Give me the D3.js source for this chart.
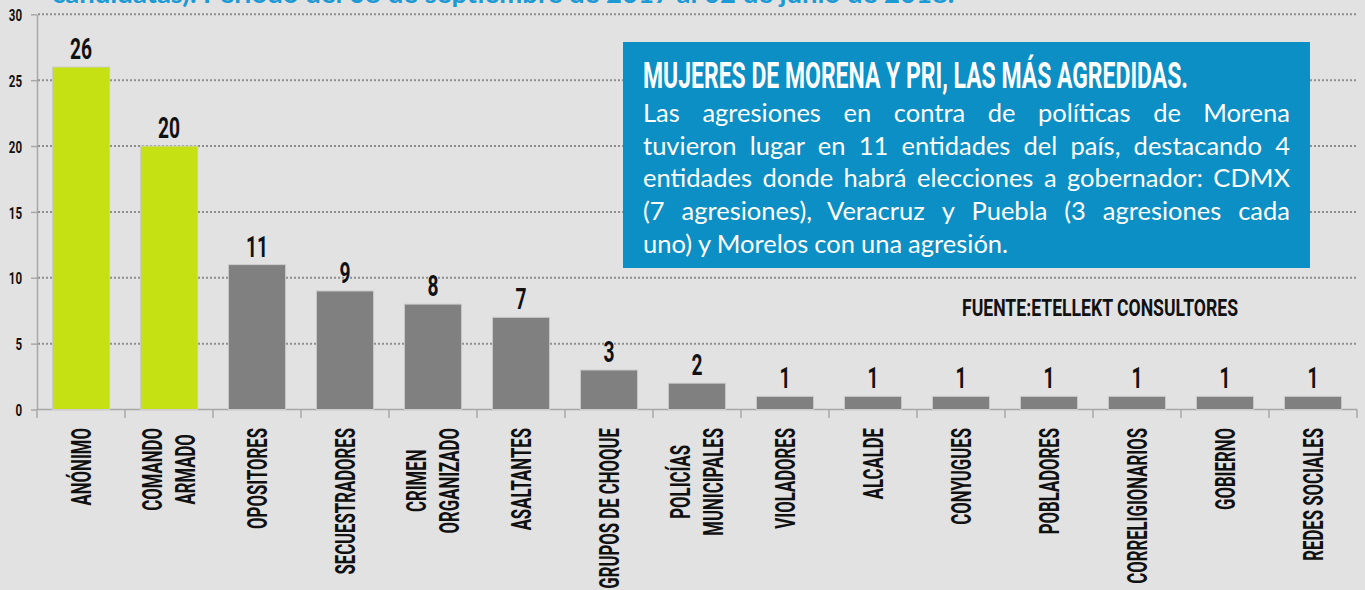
<!DOCTYPE html>
<html>
<head>
<meta charset="utf-8">
<script src="https://cdn.jsdelivr.net/npm/d3@7"></script>
<style>
  body { margin: 0; background: #e2e2e2; overflow: hidden; }
  svg { display: block; }
</style>
</head>
<body>
<div id="chart"></div>
<script>
// Data
var categories = ["ANÓNIMO", "COMANDO\nARMADO", "OPOSITORES", "SECUESTRADORES", "CRIMEN\nORGANIZADO",
  "ASALTANTES", "GRUPOS DE CHOQUE", "POLICÍAS\nMUNICIPALES", "VIOLADORES", "ALCALDE",
  "CONYUGUES", "POBLADORES", "CORRELIGIONARIOS", "GOBIERNO", "REDES SOCIALES"];
var values = [26, 20, 11, 9, 8, 7, 3, 2, 1, 1, 1, 1, 1, 1, 1];
var highlighted = ["ANÓNIMO", "COMANDO\nARMADO"];
var yTicks = [0, 5, 10, 15, 20, 25, 30];

var headline = "candidatas). Periodo del 08 de septiembre de 2017 al 02 de junio de 2018.";
var boxTitle = "MUJERES DE MORENA Y PRI, LAS MÁS AGREDIDAS.";
var boxLines = [
  "Las agresiones en contra de políticas de Morena",
  "tuvieron lugar en 11 entidades del país, destacando 4",
  "entidades donde habrá elecciones a gobernador: CDMX",
  "(7 agresiones), Veracruz y Puebla (3 agresiones cada",
  "uno) y Morelos con una agresión."
];
var sourceText = "FUENTE:ETELLEKT CONSULTORES";

// Layout
var svgWidth = 1365, svgHeight = 590;
var plot = { left: 37, right: 1357, top: 14.3, bottom: 409.5 };
var CONDENSE = 0.68;
var condFont = "Roboto, 'Liberation Sans', Arial, sans-serif";

var svg = d3.select("#chart").append("svg")
  .attr("width", svgWidth)
  .attr("height", svgHeight);

svg.append("rect")
  .attr("width", svgWidth)
  .attr("height", svgHeight)
  .attr("fill", "#e2e2e2");

// Scales
var xScale = d3.scaleBand()
  .domain(categories)
  .range([plot.left, plot.right])
  .paddingInner(0.35)
  .paddingOuter(0.175);
var yScale = d3.scaleLinear()
  .domain([0, 30])
  .range([plot.bottom, plot.top]);
var step = xScale.step();

// Headline, cut off at the top edge
svg.append("text")
  .attr("x", 52)
  .attr("y", 3)
  .attr("fill", "#1b9ad6")
  .attr("font-family", "Lato, sans-serif")
  .attr("font-weight", "bold")
  .attr("font-size", 27.5)
  .text(headline);

// Dotted gridlines
svg.append("g")
  .selectAll("line")
  .data(yTicks.filter(d => d > 0))
  .enter()
  .append("line")
  .attr("x1", plot.left + 1)
  .attr("x2", plot.right)
  .attr("y1", d => yScale(d))
  .attr("y2", d => yScale(d))
  .attr("stroke", "#8e8e8e")
  .attr("stroke-width", 2)
  .attr("stroke-dasharray", "2,2");

// Y axis
var yAxis = d3.axisLeft(yScale).tickValues(yTicks).tickSize(6).tickSizeOuter(0);
var yAxisG = svg.append("g")
  .attr("transform", `translate(${plot.left}, 0)`)
  .call(yAxis);
yAxisG.select(".domain").attr("stroke", "#a8a8a8").attr("stroke-width", 1.5);
yAxisG.selectAll(".tick line").attr("stroke", "#a8a8a8").attr("stroke-width", 1.5);
yAxisG.selectAll(".tick text")
  .attr("x", -15 / CONDENSE)
  .attr("dy", "0.36em")
  .attr("transform", `scale(${CONDENSE},1)`)
  .attr("fill", "#111")
  .attr("font-family", condFont)
  .attr("font-weight", "bold")
  .attr("font-size", 17);

// X axis line and boundary ticks
svg.append("line")
  .attr("x1", plot.left).attr("x2", plot.right)
  .attr("y1", plot.bottom).attr("y2", plot.bottom)
  .attr("stroke", "#a8a8a8").attr("stroke-width", 1.5);
var boundaries = categories.map(c => xScale(c) - step * xScale.paddingInner() / 2);
boundaries.push(plot.right);
svg.append("g")
  .selectAll("line")
  .data(boundaries)
  .enter()
  .append("line")
  .attr("x1", d => d).attr("x2", d => d)
  .attr("y1", plot.bottom).attr("y2", plot.bottom + 8.5)
  .attr("stroke", "#a8a8a8").attr("stroke-width", 1.5);

// Bars
svg.append("g")
  .selectAll("rect")
  .data(categories)
  .enter()
  .append("rect")
  .attr("x", d => xScale(d))
  .attr("y", (d, i) => yScale(values[i]))
  .attr("width", xScale.bandwidth())
  .attr("height", (d, i) => yScale(0) - yScale(values[i]))
  .attr("fill", d => highlighted.includes(d) ? "#c5e114" : "#808080")
  .attr("stroke", "#cdcdcd")
  .attr("stroke-width", 1);

// Value labels
svg.append("g")
  .selectAll("text")
  .data(categories)
  .enter()
  .append("text")
  .attr("transform", (d, i) =>
    `translate(${xScale(d) + xScale.bandwidth() / 2}, ${yScale(values[i]) - 8}) scale(0.64,1)`)
  .attr("text-anchor", "middle")
  .attr("fill", "#111")
  .attr("font-family", condFont)
  .attr("font-weight", "bold")
  .attr("font-size", 30)
  .text((d, i) => values[i]);

// Category labels, rotated, multi-line centred in a block
var labelTop = 428;
var lineGap = 34;
categories.forEach(function(c) {
  var lines = c.split("\n");
  var cx = xScale(c) + xScale.bandwidth() / 2;
  var g = svg.append("g")
    .attr("transform", `translate(${cx}, ${labelTop}) rotate(-90) scale(0.62,1)`);
  var texts = g.selectAll("text")
    .data(lines)
    .enter()
    .append("text")
    .attr("y", (d, i) => (i - (lines.length - 1) / 2) * lineGap + 9.5)
    .attr("text-anchor", "middle")
    .attr("fill", "#111")
    .attr("font-family", condFont)
    .attr("font-weight", "bold")
    .attr("font-size", 27)
    .text(d => d);
  var maxLen = d3.max(texts.nodes(), n => n.getComputedTextLength());
  texts.attr("x", -maxLen / 2);
});

// Blue annotation box
var box = { x: 623, y: 42, w: 687, h: 226, pad: 20 };
svg.append("rect")
  .attr("x", box.x).attr("y", box.y)
  .attr("width", box.w).attr("height", box.h)
  .attr("fill", "#0b8fc5");

svg.append("text")
  .attr("x", box.x + box.pad)
  .attr("y", 88)
  .attr("fill", "#fff")
  .attr("font-family", condFont)
  .attr("font-weight", "bold")
  .attr("font-size", 37)
  .attr("textLength", 545)
  .attr("lengthAdjust", "spacingAndGlyphs")
  .text(boxTitle);

// Justified body text
var textWidth = 647;
boxLines.forEach(function(line, li) {
  var words = line.split(" ");
  var t = svg.append("text")
    .attr("y", 122 + li * 32.7)
    .attr("fill", "#fff")
    .attr("font-family", "Lato, sans-serif")
    .attr("font-size", 25.5);
  var spans = t.selectAll("tspan")
    .data(words)
    .enter()
    .append("tspan")
    .text(d => d);
  var widths = spans.nodes().map(n => n.getComputedTextLength());
  var gap = 6;
  if (li < boxLines.length - 1) {
    gap = (textWidth - d3.sum(widths)) / (words.length - 1);
  }
  var pos = box.x + box.pad;
  spans.attr("x", function(d, i) {
    var p = pos;
    pos += widths[i] + gap;
    return p;
  });
});

// Source
svg.append("text")
  .attr("x", 962)
  .attr("y", 316)
  .attr("fill", "#111")
  .attr("font-family", condFont)
  .attr("font-weight", "bold")
  .attr("font-size", 23)
  .attr("textLength", 276)
  .attr("lengthAdjust", "spacingAndGlyphs")
  .text(sourceText);
</script>
</body>
</html>
